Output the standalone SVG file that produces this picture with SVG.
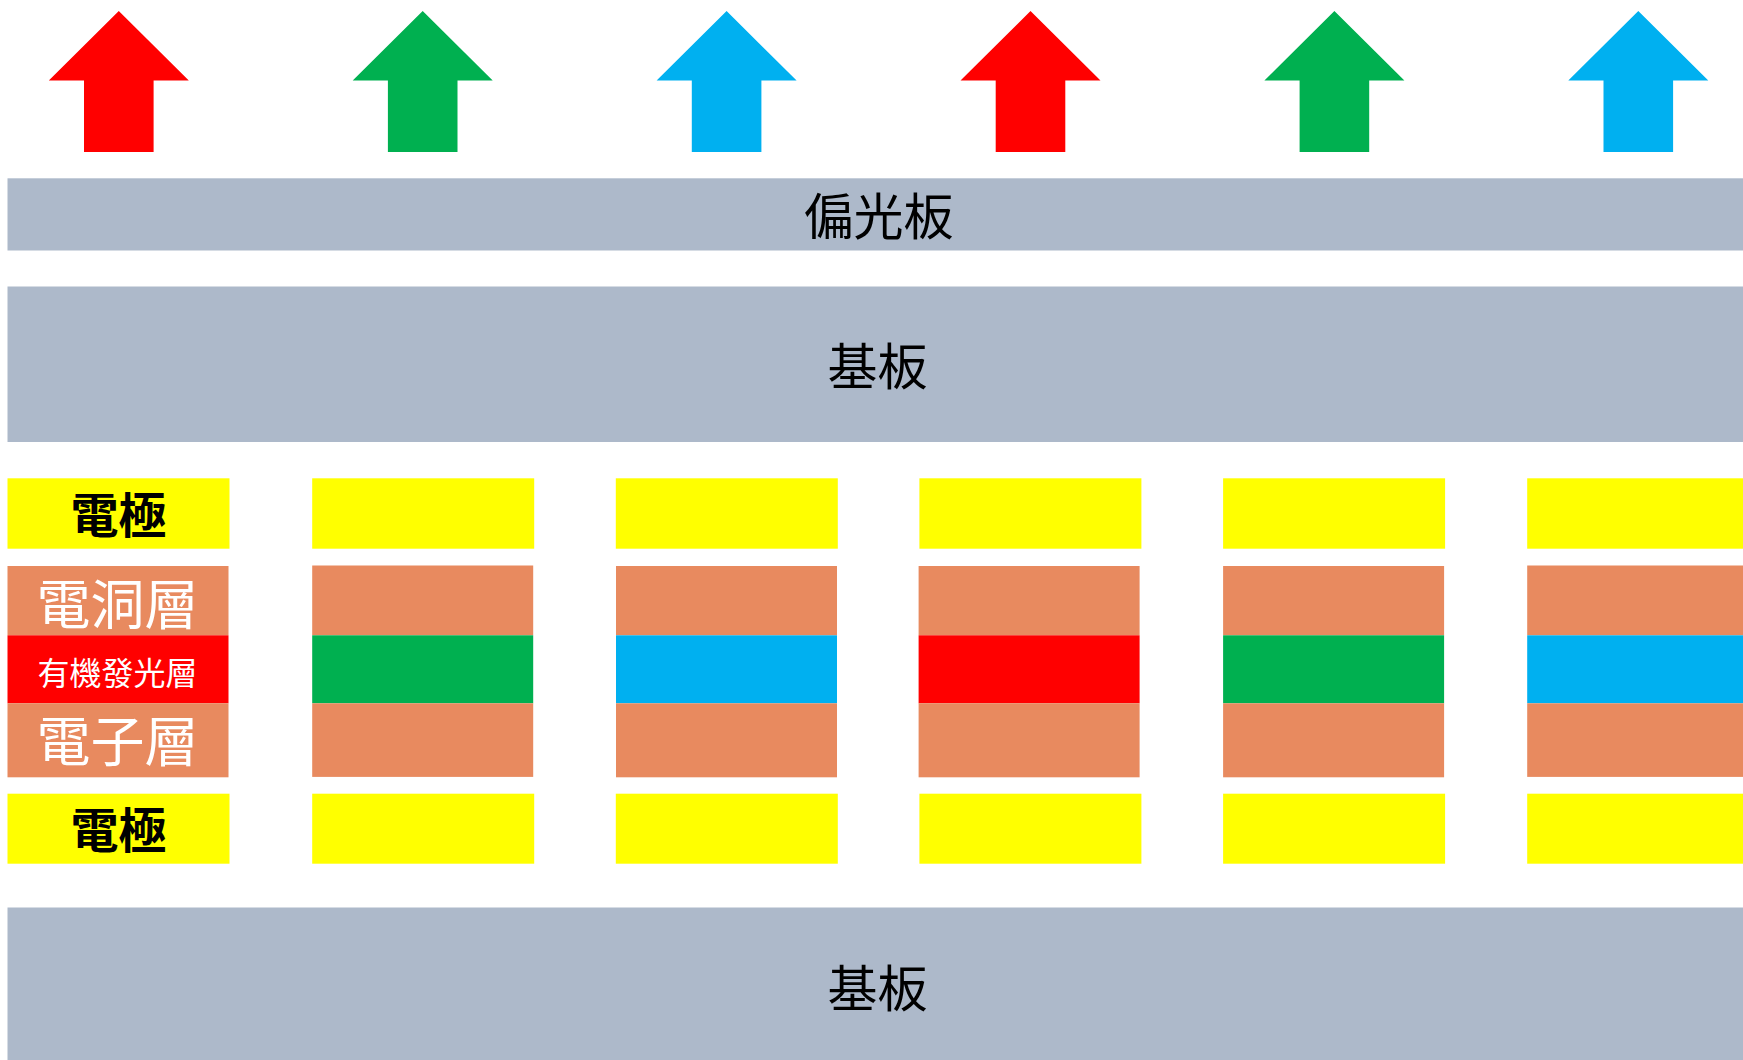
<svg xmlns="http://www.w3.org/2000/svg" width="1743" height="1060" viewBox="0 0 1743 1060">
<style>
.plate{fill:#ADB9CA}
.elec{fill:#FFFF00}
.hole{fill:#E88A5F}
.red{fill:#FF0000}
.green{fill:#00B050}
.blue{fill:#00B0F0}
text{font-family:"Noto Sans CJK TC","Noto Sans CJK SC",sans-serif;text-anchor:middle;dominant-baseline:central}
.big{font-size:50px;fill:#000}
.el{font-size:48px;fill:#000;font-weight:bold}
.wt{font-size:54px;fill:#fff}
.ws{font-size:32px;fill:#fff}
</style>
<g id="arrows">
<polygon id="arrow1" class="red" points="118.8,11 188.8,80.5 153.6,80.5 153.6,152 84,152 84,80.5 48.8,80.5"/>
<polygon id="arrow2" class="green" points="422.7,11 492.7,80.5 457.5,80.5 457.5,152 387.9,152 387.9,80.5 352.7,80.5"/>
<polygon id="arrow3" class="blue" points="726.6,11 796.6,80.5 761.4,80.5 761.4,152 691.8,152 691.8,80.5 656.6,80.5"/>
<polygon id="arrow4" class="red" points="1030.5,11 1100.5,80.5 1065.3,80.5 1065.3,152 995.7,152 995.7,80.5 960.5,80.5"/>
<polygon id="arrow5" class="green" points="1334.4,11 1404.4,80.5 1369.2,80.5 1369.2,152 1299.6,152 1299.6,80.5 1264.4,80.5"/>
<polygon id="arrow6" class="blue" points="1638.3,11 1708.3,80.5 1673.1,80.5 1673.1,152 1603.5,152 1603.5,80.5 1568.3,80.5"/>
</g>
<g id="polarizer">
<rect class="plate" x="7.5" y="178.3" width="1736" height="72.2"/>
<text class="big" x="878.5" y="212.5">偏光板</text>
</g>
<g id="substrate-top">
<rect class="plate" x="7.5" y="286.5" width="1736" height="155.5"/>
<text class="big" x="877.5" y="362.5">基板</text>
</g>
<g id="column1">
<rect class="elec" x="7.5" y="478.3" width="222" height="70.4"/>
<text class="el" x="118.5" y="511.5">電極</text>
<rect class="hole" x="7.5" y="566" width="221" height="69.3"/>
<text class="wt" x="117.5" y="601">電洞層</text>
<rect class="red" x="7.5" y="635.3" width="221" height="68"/>
<text class="ws" x="117.5" y="670.5">有機發光層</text>
<rect class="hole" x="7.5" y="703.3" width="221" height="74"/>
<text class="wt" x="117.5" y="738.5">電子層</text>
<rect class="elec" x="7.5" y="793.7" width="222" height="70"/>
<text class="el" x="118.5" y="827">電極</text>
</g>
<g id="column2">
<rect class="elec" x="312.2" y="478.3" width="222" height="70.4"/>
<rect class="hole" x="312.2" y="565.5" width="221" height="69.8"/>
<rect class="green" x="312.2" y="635.3" width="221" height="68"/>
<rect class="hole" x="312.2" y="703.3" width="221" height="73.6"/>
<rect class="elec" x="312.2" y="793.7" width="222" height="70"/>
</g>
<g id="column3">
<rect class="elec" x="615.8" y="478.3" width="222" height="70.4"/>
<rect class="hole" x="616" y="566" width="221" height="69.3"/>
<rect class="blue" x="616" y="635.3" width="221" height="68"/>
<rect class="hole" x="616" y="703.3" width="221" height="74"/>
<rect class="elec" x="615.8" y="793.7" width="222" height="70"/>
</g>
<g id="column4">
<rect class="elec" x="919.4" y="478.3" width="222" height="70.4"/>
<rect class="hole" x="918.6" y="566" width="221" height="69.3"/>
<rect class="red" x="918.6" y="635.3" width="221" height="68"/>
<rect class="hole" x="918.6" y="703.3" width="221" height="74"/>
<rect class="elec" x="919.4" y="793.7" width="222" height="70"/>
</g>
<g id="column5">
<rect class="elec" x="1223.1" y="478.3" width="222" height="70.4"/>
<rect class="hole" x="1223.1" y="566" width="221" height="69.3"/>
<rect class="green" x="1223.1" y="635.3" width="221" height="68"/>
<rect class="hole" x="1223.1" y="703.3" width="221" height="74"/>
<rect class="elec" x="1223.1" y="793.7" width="222" height="70"/>
</g>
<g id="column6">
<rect class="elec" x="1527.2" y="478.3" width="222" height="70.4"/>
<rect class="hole" x="1527.2" y="565.5" width="221" height="69.8"/>
<rect class="blue" x="1527.2" y="635.3" width="221" height="68"/>
<rect class="hole" x="1527.2" y="703.3" width="221" height="73.6"/>
<rect class="elec" x="1527.2" y="793.7" width="222" height="70"/>
</g>
<g id="substrate-bottom">
<rect class="plate" x="7.5" y="907.5" width="1736" height="153"/>
<text class="big" x="877.5" y="984.5">基板</text>
</g>
<g id="connectors"/>
</svg>
